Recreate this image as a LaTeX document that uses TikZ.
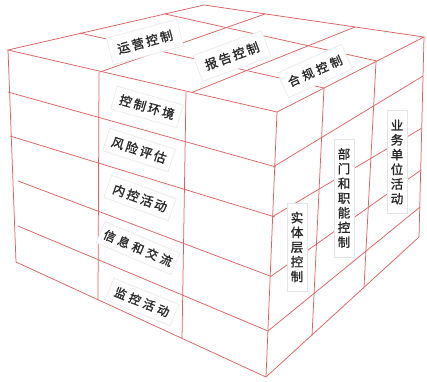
\documentclass[tikz,border=0pt]{standalone}
\usepackage{fontspec}
\newfontfamily\cjk{Noto Sans CJK SC}[FakeBold=1.2,LetterSpace=18]
\newfontfamily\cjkwide{Noto Sans CJK SC}[FakeBold=1.2,LetterSpace=28]
\definecolor{gl}{RGB}{218,98,98}
\begin{document}
\begin{tikzpicture}[x=1pt,y=-1pt,
  gridline/.style={draw=gl,line width=0.75pt},
  lab/.style={fill=white,draw=black!10,line width=0.5pt,font=\cjk\fontsize{12.5}{14.7}\selectfont,text=black!85,inner xsep=6pt,inner ysep=6pt},
  toplab/.style={lab,inner xsep=8pt,inner ysep=8pt},
  widelab/.style={lab,font=\cjkwide\fontsize{12}{14.7}\selectfont},
  vlab/.style={lab,align=center,inner xsep=4pt,inner ysep=9pt}]
\useasboundingbox (0,0) rectangle (427,381);
% corners
\coordinate (L) at (8,50);
\coordinate (B) at (204,5);
\coordinate (R) at (424,37);
\coordinate (F) at (277,112);
\coordinate (Lb) at (16,262);
\coordinate (Fb) at (266,377);
\coordinate (Rb) at (419,237);
% outline
\draw[gridline] (L) -- (B) -- (R) -- (F) -- cycle;
\draw[gridline] (L) -- (Lb) -- (Fb) -- (Rb) -- (R);
\draw[gridline] (F) -- (Fb);
% front face rows
\draw[gridline] (8,92) -- (276,167);
\draw[gridline] (10,136) -- (275,217);
\draw[gridline] (18,181) -- (270,276);
\draw[gridline] (18,226) -- (268,331);
% front face columns
\draw[gridline] (99,72) -- (98,300);
\draw[gridline] (186,92) -- (182,339);
% top face
\draw[gridline] (100,72) -- (265,14);
\draw[gridline] (193,92) -- (355,27);
\draw[gridline] (165,14) -- (377,61);
\draw[gridline] (80,33) -- (324,88);
% right face columns
\draw[gridline] (324,88) -- (312,336);
\draw[gridline] (376,62) -- (364,287);
% right face rows
\draw[gridline] (273,167) -- (423,76);
\draw[gridline] (272,217) -- (422,128);
\draw[gridline] (270,277) -- (421,170);
\draw[gridline] (268,331) -- (420,207);
% top labels
\node[toplab,rotate=15] (op) at (145,42) {运营控制};
\node[toplab,rotate=20] (rep) at (232,56) {报告控制};
\node[widelab,inner xsep=6pt,inner ysep=8pt,rotate=24] (comp) at (315,71) {合规控制};
% front labels
\node[lab,rotate=-16] (ce) at (147,107) {控制环境};
\node[lab,rotate=-18] (ra) at (139,150) {风险评估};
\node[lab,rotate=-20] (ca) at (140,198) {内控活动};
\node[widelab,inner xsep=4pt,rotate=-23] (ic) at (138,248) {信息和交流};
\node[widelab,inner xsep=6pt,rotate=-22] (mo) at (142,302) {监控活动};
% right labels
\node[vlab] (el) at (297,247) {实\\体\\层\\控\\制};
\node[vlab] (df) at (344,198) {部\\门\\和\\职\\能\\控\\制};
\node[vlab] (bu) at (397,162) {业\\务\\单\\位\\活\\动};
\end{tikzpicture}
\end{document}
